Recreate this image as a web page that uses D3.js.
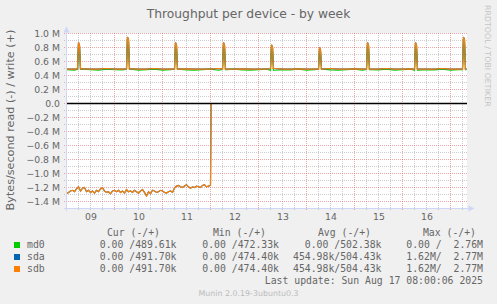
<!DOCTYPE html>
<html>
<head>
<meta charset="utf-8">
<script src="https://cdn.jsdelivr.net/npm/d3@7"></script>
<style>
  body { margin: 0; background: #f0f0f0; }
  svg { display: block; }
  text { font-family: "DejaVu Sans", sans-serif; fill: #666; }
  .mono { font-family: "DejaVu Sans Mono", monospace; font-size: 9.8px; white-space: pre; }
</style>
</head>
<body>
<div id="container"></div>
<script>
// time axis: 200 hours ending at last update
var startTime = new Date(2025, 7, 9, 0, 0, 0)
var spanHours = 200

// read (-) of sda / sdb, hourly, MB/s (magnitude), stops at hour 72
var readSd = [
  1.29, 1.27, 1.25, 1.24, 1.26, 1.22, 1.19, 1.25, 1.21, 1.20,
  1.26, 1.24, 1.27, 1.25, 1.28, 1.24, 1.26, 1.22, 1.20, 1.25,
  1.27, 1.26, 1.29, 1.25, 1.24, 1.26, 1.24, 1.27, 1.25, 1.28,
  1.23, 1.26, 1.25, 1.27, 1.24, 1.26, 1.28, 1.25, 1.23, 1.27,
  1.32, 1.26, 1.29, 1.24, 1.25, 1.27, 1.26, 1.24, 1.25, 1.27,
  1.28, 1.26, 1.25, 1.27, 1.21, 1.18, 1.17, 1.19, 1.20, 1.18,
  1.16, 1.19, 1.21, 1.19, 1.20, 1.18, 1.19, 1.20, 1.17, 1.16,
  1.19, 1.18, 1.17
]
var readStopHour = 72.3

// write (+) baseline every 4 hours
var sdWriteBase = [
  0.49, 0.49, 0.495, 0.49, 0.49, 0.50, 0.49, 0.49, 0.495, 0.49,
  0.49, 0.50, 0.49, 0.49, 0.49, 0.495, 0.49, 0.49, 0.49, 0.50,
  0.49, 0.49, 0.495, 0.49, 0.49, 0.49, 0.50, 0.49, 0.49, 0.495,
  0.49, 0.49, 0.49, 0.50, 0.49, 0.49, 0.495, 0.49, 0.49, 0.49,
  0.50, 0.49, 0.49, 0.495, 0.49, 0.49, 0.49, 0.50, 0.49, 0.49,
  0.49
]
var md0WriteBase = [
  0.485, 0.475, 0.49, 0.485, 0.475, 0.49, 0.485, 0.48, 0.49, 0.475,
  0.485, 0.49, 0.475, 0.485, 0.49, 0.48, 0.475, 0.485, 0.49, 0.475,
  0.485, 0.49, 0.48, 0.475, 0.485, 0.49, 0.475, 0.485, 0.48, 0.49,
  0.475, 0.485, 0.49, 0.48, 0.475, 0.485, 0.49, 0.475, 0.485, 0.48,
  0.49, 0.475, 0.485, 0.49, 0.475, 0.485, 0.48, 0.49, 0.475, 0.485,
  0.485
]

// daily write spikes
var spikeHours = [6, 30.5, 54.5, 78.5, 102.5, 126.5, 150.5, 174.5, 198.5]
var sdSpikePeak = [0.87, 0.95, 0.87, 0.87, 0.84, 0.80, 0.87, 0.87, 0.95]
var md0SpikePeak = [0.85, 0.93, 0.85, 0.85, 0.82, 0.77, 0.85, 0.85, 0.92]

var yTicks = [1.0, 0.8, 0.6, 0.4, 0.2, 0, -0.2, -0.4, -0.6, -0.8, -1.0, -1.2, -1.4]

var legendNames = ['md0', 'sda', 'sdb']
var legendColors = ['#00cc00', '#0066b3', '#ff8000']
var legendCur = ['0.00 /489.61k', '0.00 /491.70k', '0.00 /491.70k']
var legendMin = ['0.00 /472.33k', '0.00 /474.40k', '0.00 /474.40k']
var legendAvg = ['0.00 /502.38k', '454.98k/504.43k', '454.98k/504.43k']
var legendMax = ['0.00 /  2.76M', '1.62M/  2.77M', '1.62M/  2.77M']

function hourToDate(h) {
  return new Date(startTime.getTime() + h * 3600e3)
}

function writePoints(base, peaks) {
  var pts = base.map(function (v, i) { return [i * 4, v] })
  spikeHours.forEach(function (h, k) {
    var b = base[Math.min(base.length - 1, Math.round(h / 4))]
    pts = pts.filter(function (p) { return p[0] < h - 0.5 || p[0] > h + 1 })
    pts.push([h - 0.5, b], [h, peaks[k]], [h + 0.5, peaks[k] * 0.96], [h + 1, b])
  })
  return pts.sort(function (a, b) { return a[0] - b[0] })
}

function readPoints(vals) {
  var pts = vals.map(function (v, i) { return [i, -v] })
  pts.push([readStopHour, 0], [spanHours, 0])
  return pts
}

var series = [
  { color: legendColors[0], read: [[0, 0], [spanHours, 0]], write: writePoints(md0WriteBase, md0SpikePeak) },
  { color: legendColors[1], read: readPoints(readSd), write: writePoints(sdWriteBase, sdSpikePeak) },
  { color: legendColors[2], read: readPoints(readSd), write: writePoints(sdWriteBase, sdSpikePeak) }
]

var svg = d3.select('#container').append('svg')
  .attr('width', 497)
  .attr('height', 304)

svg.append('rect').attr('width', 497).attr('height', 304).attr('fill', '#f0f0f0')

var x = d3.scaleTime().domain([hourToDate(0), hourToDate(spanHours)]).range([66.5, 466.5])
var y = d3.scaleLinear().domain([-1.5, 1.0]).range([208.5, 33.5])

svg.append('rect')
  .attr('x', 67).attr('y', 33).attr('width', 400).attr('height', 175)
  .attr('fill', '#ffffff')

// grid
var grid = svg.append('g').attr('class', 'grid')
var minorX = d3.timeHour.every(6).range(hourToDate(0), hourToDate(spanHours + 0.1))
  .filter(function (d) { return d.getHours() !== 0 })
var majorX = d3.timeDay.range(hourToDate(1), hourToDate(spanHours))

grid.selectAll('.vminor').data(minorX).enter().append('line')
  .attr('x1', function (d) { return x(d) }).attr('x2', function (d) { return x(d) })
  .attr('y1', 33).attr('y2', 210.5)
  .attr('stroke', 'rgba(128,128,128,0.4)').attr('stroke-dasharray', '1,1')

grid.selectAll('.vmajor').data(majorX).enter().append('line')
  .attr('x1', function (d) { return x(d) }).attr('x2', function (d) { return x(d) })
  .attr('y1', 33).attr('y2', 210.5)
  .attr('stroke', 'rgba(220,60,60,0.45)').attr('stroke-dasharray', '1,1')

var hLines = d3.range(-15, 11)
grid.selectAll('.hline').data(hLines).enter().append('line')
  .attr('x1', 64).attr('x2', 467)
  .attr('y1', function (i) { return y(i / 10) }).attr('y2', function (i) { return y(i / 10) })
  .attr('stroke', function (i) { return i % 2 === 0 ? 'rgba(220,60,60,0.45)' : 'rgba(128,128,128,0.4)' })
  .attr('stroke-dasharray', '1,1')

// data lines
var line = d3.line()
  .x(function (d) { return x(hourToDate(d[0])) })
  .y(function (d) { return y(d[1]) })

var lines = svg.append('g')
series.forEach(function (s) {
  lines.append('path').attr('d', line(s.read))
    .attr('fill', 'none').attr('stroke', s.color).attr('stroke-width', 1.2)
  lines.append('path').attr('d', line(s.write))
    .attr('fill', 'none').attr('stroke', s.color).attr('stroke-width', 1.2)
})

// zero line on top
svg.append('line')
  .attr('x1', 67).attr('x2', 467).attr('y1', y(0)).attr('y2', y(0))
  .attr('stroke', '#000').attr('stroke-width', 1.6)

// axes with arrows
var axisColor = '#cfd6f8'
svg.append('line').attr('x1', 66.5).attr('x2', 66.5).attr('y1', 211).attr('y2', 30)
  .attr('stroke', axisColor)
svg.append('line').attr('x1', 64).attr('x2', 470).attr('y1', 208.5).attr('y2', 208.5)
  .attr('stroke', axisColor)
svg.append('path').attr('d', 'M63.5,32.5L69.5,32.5L66.5,26.5Z').attr('fill', axisColor)
svg.append('path').attr('d', 'M468.5,205.5L468.5,211.5L474.5,208.5Z').attr('fill', axisColor)

// tick labels
var yAxis = svg.append('g')
  .attr('transform', 'translate(60,0)')
  .call(d3.axisLeft(y).tickValues(yTicks).tickSize(0).tickPadding(0)
    .tickFormat(function (v) { return v === 0 ? '0.0' : d3.format('.1f')(v) + ' M' }))
yAxis.select('.domain').remove()
yAxis.selectAll('text').attr('fill', '#666').style('font-size', '9.3px')
  .style('font-family', '"DejaVu Sans", sans-serif')

var noonTicks = d3.timeDay.range(hourToDate(0), hourToDate(spanHours))
  .map(function (d) { return d3.timeHour.offset(d, 12) })
  .filter(function (d) { return d < hourToDate(spanHours) })
var xAxis = svg.append('g')
  .attr('transform', 'translate(0,210)')
  .call(d3.axisBottom(x).tickValues(noonTicks).tickSize(0).tickPadding(3)
    .tickFormat(d3.timeFormat('%d')))
xAxis.select('.domain').remove()
xAxis.selectAll('text').attr('fill', '#666').style('font-size', '9.3px')
  .style('font-family', '"DejaVu Sans", sans-serif')

// titles
svg.append('text').attr('x', 248.5).attr('y', 18)
  .attr('text-anchor', 'middle').style('font-size', '12.3px')
  .text('Throughput per device - by week')

svg.append('text')
  .attr('transform', 'translate(14,120) rotate(-90)')
  .attr('text-anchor', 'middle').style('font-size', '11.2px')
  .text('Bytes/second read (-) / write (+)')

svg.append('text')
  .attr('transform', 'translate(485,5) rotate(90)')
  .attr('text-anchor', 'start').style('font-size', '7.9px').style('fill', '#c4c4c4')
  .text('RRDTOOL / TOBI OETIKER')

// legend
var legend = svg.append('g')
var heads = [['Cur (-/+)', 160], ['Min (-/+)', 266], ['Avg (-/+)', 371], ['Max (-/+)', 476]]
heads.forEach(function (h) {
  legend.append('text').attr('class', 'mono').attr('x', h[1]).attr('y', 236)
    .attr('text-anchor', 'end').text(h[0])
})

legendNames.forEach(function (name, i) {
  var yy = 248 + i * 12
  legend.append('rect').attr('x', 14).attr('y', yy - 6).attr('width', 6).attr('height', 6)
    .attr('fill', legendColors[i])
  legend.append('text').attr('class', 'mono').attr('x', 27).attr('y', yy).text(name)
  var cols = [[legendCur[i], 176.5], [legendMin[i], 279], [legendAvg[i], 381.5], [legendMax[i], 483]]
  cols.forEach(function (c) {
    legend.append('text').attr('class', 'mono').attr('x', c[1]).attr('y', yy)
      .attr('text-anchor', 'end').text(c[0])
  })
})

legend.append('text').attr('class', 'mono').attr('x', 483).attr('y', 284)
  .attr('text-anchor', 'end').text('Last update: Sun Aug 17 08:00:06 2025')

svg.append('text').attr('x', 248.5).attr('y', 296)
  .attr('text-anchor', 'middle').style('font-size', '7.9px').style('fill', '#bbbbbb')
  .text('Munin 2.0.19-3ubuntu0.3')
</script>
</body>
</html>
